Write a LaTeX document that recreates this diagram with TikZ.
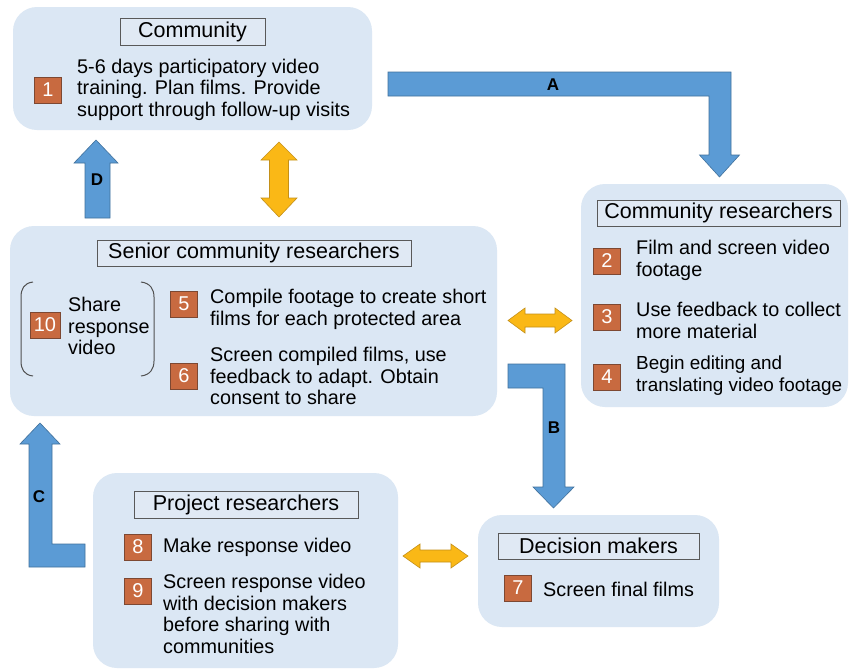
\documentclass[tikz,border=0pt]{standalone}
\usepackage{fontspec}
\setmainfont{Liberation Sans}
\definecolor{boxblue}{RGB}{219,231,244}
\definecolor{titlefill}{RGB}{224,233,244}
\definecolor{arrblue}{RGB}{91,155,213}
\definecolor{arrblueline}{RGB}{65,113,156}
\definecolor{arryel}{RGB}{250,184,22}
\definecolor{arryelline}{RGB}{196,144,24}
\definecolor{badgeor}{RGB}{200,106,64}
\definecolor{badgeline}{RGB}{125,72,50}
\definecolor{bracketgray}{RGB}{80,80,80}
\begin{document}
\begin{tikzpicture}[x=1pt,y=-1pt,
 panel/.style={fill=boxblue, rounded corners=24pt},
 titlebox/.style={draw=black!65, fill=titlefill, line width=0.9pt, inner sep=0pt, font=\fontsize{21.5}{24}\selectfont},
 badge/.style={fill=badgeor, draw=badgeline, line width=0.5pt, text=white, inner sep=0pt, minimum width=27pt, minimum height=26pt, font=\fontsize{20}{22}\selectfont},
 body/.style={inner sep=0pt, align=left, anchor=west, font=\fontsize{19.8}{21.5}\selectfont},
 tightbody/.style={body, font=\fontsize{18.9}{21.5}\selectfont},
 bluearrow/.style={fill=arrblue, draw=arrblueline, line width=0.6pt, line join=miter},
 yelarrow/.style={fill=arryel, draw=arryelline, line width=0.6pt},
 lbl/.style={font=\fontsize{17}{17}\selectfont\bfseries, inner sep=0pt},
 bracket/.style={draw=bracketgray, line width=1pt}
]
\useasboundingbox (0,0) rectangle (849,670);
\fill[white] (0,0) rectangle (849,670);

% panels
\path[panel] (13,7) rectangle (372,130);
\path[panel] (10,226) rectangle (497,416);
\path[panel] (581,184) rectangle (848,407);
\path[panel] (478,515) rectangle (719,627);
\path[panel] (93,473) rectangle (398,668);

% titles
\node[titlebox, minimum width=145pt, minimum height=27pt] (tcom) at (192.5,31.5) {Community};
\node[titlebox, minimum width=314pt, minimum height=26pt] (tsen) at (254,253) {Senior community researchers};
\node[titlebox, minimum width=243pt, minimum height=26pt] (tcr) at (718.5,213) {Community researchers};
\node[titlebox, minimum width=201pt, minimum height=26pt] (tdm) at (598.5,546) {Decision makers};
\node[titlebox, minimum width=224pt, minimum height=27pt] (tpr) at (246,504.5) {Project researchers};

% badges
\node[badge] (b1) at (48,90) {1};
\node[badge, minimum width=30pt] (b10) at (45,325) {10};
\node[badge] (b5) at (184,304) {5};
\node[badge] (b6) at (184,376) {6};
\node[badge] (b2) at (607,261) {2};
\node[badge] (b3) at (607,317) {3};
\node[badge] (b4) at (607,377) {4};
\node[badge] (b7) at (518,588) {7};
\node[badge] (b8) at (138,547) {8};
\node[badge] (b9) at (138,591) {9};

% texts
\node[body] (x1) at (77,89.5) {5-6 days participatory video\\training. Plan films. Provide\\support through follow-up visits};
\node[body] (x10) at (68,326) {Share\\response\\video};
\node[body] (x5) at (210,309.5) {Compile footage to create short\\films for each protected area};
\node[body] (x6) at (210,376) {Screen compiled films, use\\feedback to adapt. Obtain\\consent to share};
\node[body] (x2) at (636,260.5) {Film and screen video\\footage};
\node[body] (x3) at (636,320.5) {Use feedback to collect\\more material};
\node[tightbody] (x4) at (636,375.5) {Begin editing and\\translating video footage};
\node[body] (x7) at (543,589.5) {Screen final films};
\node[body] (x8) at (163,547.5) {Make response video};
\node[body] (x9) at (163,614) {Screen response video\\with decision makers\\before sharing with\\communities};

% brackets
\draw[bracket] (33,282) .. controls (24,283) and (21,289) .. (21,297) -- (21,361) .. controls (21,369) and (24,375) .. (33,376);
\draw[bracket] (141,282) .. controls (150,283) and (154,289) .. (154,297) -- (154,361) .. controls (154,369) and (150,375) .. (141,376);

% blue arrows
\draw[bluearrow] (388,72) -- (731,72) -- (731,155) -- (739.5,155) -- (719.5,177) -- (699.5,155) -- (709,155) -- (709,96) -- (388,96) -- cycle;
\node[lbl] (la) at (553,85) {A};
\draw[bluearrow] (508,364) -- (565,364) -- (565,487) -- (574,487) -- (553.5,508) -- (533,487) -- (543,487) -- (543,388) -- (508,388) -- cycle;
\node[lbl] (lb) at (554,428) {B};
\draw[bluearrow] (40,423) -- (60,444) -- (52,444) -- (52,544) -- (85,544) -- (85,567) -- (29,567) -- (29,444) -- (20,444) -- cycle;
\node[lbl] (lc) at (39,497) {C};
\draw[bluearrow] (96,140) -- (118,163) -- (110,163) -- (110,218) -- (85,218) -- (85,163) -- (74,163) -- cycle;
\node[lbl] (ld) at (97,180) {D};

% yellow double arrows
\draw[yelarrow] (279,142) -- (297,160) -- (288.5,160) -- (288.5,198) -- (297,198) -- (279,217) -- (261,198) -- (269.5,198) -- (269.5,160) -- (261,160) -- cycle;
\draw[yelarrow] (508,320.5) -- (525,308) -- (525,314) -- (555,314) -- (555,308) -- (572,320.5) -- (555,333) -- (555,327) -- (525,327) -- (525,333) -- cycle;
\draw[yelarrow] (403,556) -- (420,544) -- (420,550) -- (451,550) -- (451,544) -- (468,556) -- (451,568) -- (451,562) -- (420,562) -- (420,568) -- cycle;
\end{tikzpicture}
\end{document}
